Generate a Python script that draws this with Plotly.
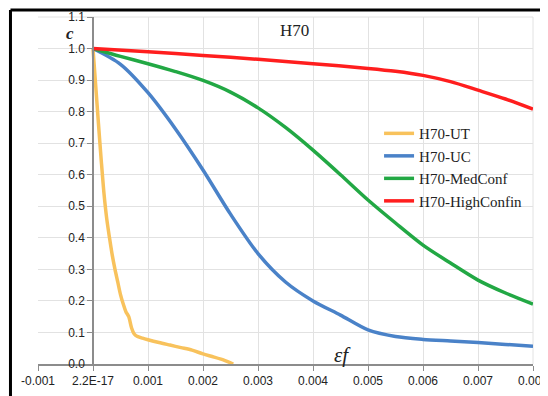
import plotly.graph_objects as go

# ---- data ----
x_ut = [0, 0.00005, 0.0001, 0.00015, 0.0002, 0.00025, 0.0003, 0.00035, 0.0004, 0.00045, 0.0005,
        0.00055, 0.0006, 0.00065, 0.0007, 0.00075, 0.0008, 0.0009, 0.001, 0.0012, 0.0014, 0.0016,
        0.0018, 0.002, 0.0022, 0.0024, 0.00255]
c_ut = [1.0, 0.88, 0.76, 0.645, 0.54, 0.46, 0.40, 0.345, 0.30, 0.26, 0.22,
        0.19, 0.165, 0.15, 0.115, 0.095, 0.088, 0.082, 0.077, 0.068, 0.06, 0.052,
        0.044, 0.032, 0.022, 0.011, 0.0]

x_uc = [0, 0.0005, 0.001, 0.0015, 0.002, 0.0025, 0.003, 0.0035, 0.004, 0.0045, 0.005,
        0.0055, 0.006, 0.0065, 0.007, 0.0075, 0.008]
c_uc = [1.0, 0.95, 0.86, 0.745, 0.615, 0.475, 0.35, 0.26, 0.2, 0.155, 0.108,
        0.087, 0.078, 0.073, 0.068, 0.062, 0.056]

x_med = [0, 0.0005, 0.001, 0.0015, 0.002, 0.0025, 0.003, 0.0035, 0.004, 0.0045, 0.005,
         0.0055, 0.006, 0.0065, 0.007, 0.0075, 0.008]
c_med = [1.0, 0.975, 0.952, 0.927, 0.899, 0.862, 0.812, 0.75, 0.678, 0.6, 0.52,
         0.447, 0.377, 0.32, 0.266, 0.225, 0.19]

x_high = [0, 0.001, 0.002, 0.003, 0.004, 0.005, 0.0055, 0.006, 0.0065, 0.007, 0.0075, 0.008]
c_high = [1.0, 0.99, 0.978, 0.966, 0.952, 0.937, 0.928, 0.915, 0.895, 0.868, 0.84, 0.808]

names = ["H70-UT", "H70-UC", "H70-MedConf", "H70-HighConfin"]
colors = ["#F8C25C", "#4A82C8", "#22A844", "#FF1E1E"]

x_ticks = [-0.001, 0, 0.001, 0.002, 0.003, 0.004, 0.005, 0.006, 0.007, 0.008]
x_tick_text = ["-0.001", "2.2E-17", "0.001", "0.002", "0.003", "0.004", "0.005", "0.006", "0.007", "0.008"]
y_ticks = [0.0, 0.1, 0.2, 0.3, 0.4, 0.5, 0.6, 0.7, 0.8, 0.9, 1.0, 1.1]

fig = go.Figure()
for xs, ys, nm, col in zip([x_ut, x_uc, x_med, x_high], [c_ut, c_uc, c_med, c_high], names, colors):
    fig.add_trace(go.Scatter(x=xs, y=ys, mode="lines", name=nm, cliponaxis=False,
                             line=dict(color=col, width=3.5, shape="spline", smoothing=0.8)))

grid = "#E2E2E2"
axis_col = "#8C8C8C"
tick_font = dict(family="Liberation Sans, Arial, sans-serif", size=12, color="#222222")
serif = "Liberation Serif, Times New Roman, serif"

# page body has an 8px margin, so the figure is 8px smaller and everything is shifted
fig.update_layout(
    width=540, height=388,
    margin=dict(l=30, r=15, t=9, b=32, autoexpand=False),
    paper_bgcolor="white", plot_bgcolor="white",
    showlegend=True,
    legend=dict(x=0.689, y=0.7115, xanchor="left", yanchor="top",
                font=dict(family=serif, size=15, color="#222222"),
                bgcolor="rgba(0,0,0,0)", borderwidth=0),
    xaxis=dict(range=[-0.001, 0.008], tickvals=x_ticks, ticktext=x_tick_text, automargin=False,
               ticklabeloverflow="allow",
               showgrid=True, gridcolor=grid, gridwidth=1, zeroline=False,
               showline=True, linecolor=axis_col, linewidth=1.5,
               ticks="outside", ticklen=5, tickcolor=axis_col, tickfont=tick_font),
    yaxis=dict(range=[0, 1.1], tickvals=y_ticks, tickformat=".1f", automargin=False,
               ticklabeloverflow="allow",
               showgrid=True, gridcolor=grid, gridwidth=1, zeroline=False,
               anchor="free", position=1/9,
               showline=True, linecolor=axis_col, linewidth=1.5,
               ticks="outside", ticklen=5, tickcolor=axis_col, tickfont=tick_font),
)

# light frame at top and right (gridline look)
fig.add_shape(type="line", xref="paper", yref="paper", x0=0, x1=1, y0=1, y1=1,
              line=dict(color=grid, width=1), layer="below")
fig.add_shape(type="line", xref="paper", yref="paper", x0=1, x1=1, y0=0, y1=1,
              line=dict(color=grid, width=1), layer="below")

# black image frame (top and left)
fig.add_shape(type="line", xref="paper", yref="paper", x0=-0.0556, x1=1.1, y0=1.0202, y1=1.0202,
              line=dict(color="black", width=3))
fig.add_shape(type="line", xref="paper", yref="paper", x0=-0.0556, x1=-0.0556, y0=-0.2, y1=1.0202,
              line=dict(color="black", width=3))

fig.add_annotation(text="H70", xref="paper", yref="paper", x=0.519, y=0.9625,
                   xanchor="center", yanchor="middle",
                   showarrow=False, font=dict(family=serif, size=17, color="#222222"))
fig.add_annotation(text="<b><i>c</i></b>", xref="paper", yref="paper", x=(70 - 38) / 495, y=1 - (33 - 17) / 347,
                   xanchor="center", yanchor="middle",
                   showarrow=False, font=dict(family=serif, size=17, color="#222222"))
fig.add_annotation(text="<i>εf</i>", xref="paper", yref="paper", x=(342 - 38) / 495, y=1 - (355 - 17) / 347,
                   xanchor="center", yanchor="middle",
                   showarrow=False, font=dict(family=serif, size=21, color="#222222"))

fig.write_html("out.html")
